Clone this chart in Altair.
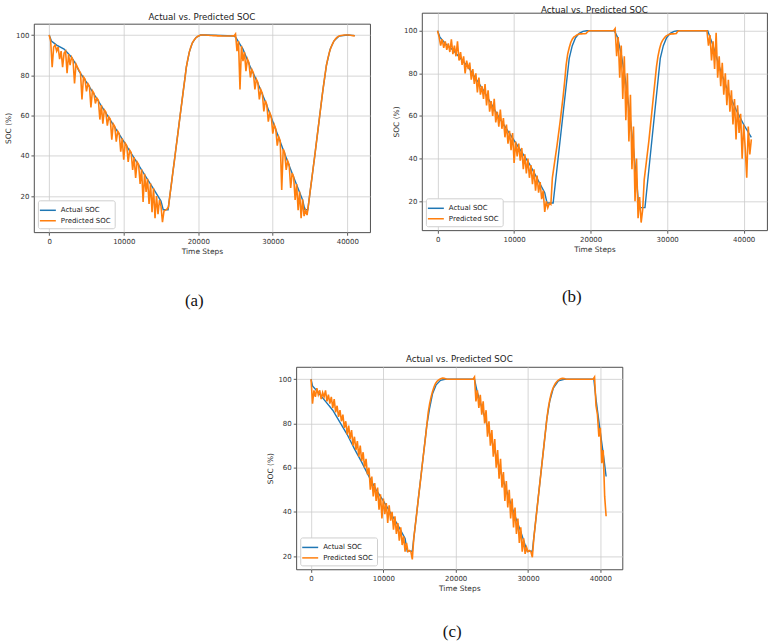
import altair as alt
import numpy as np
import pandas as pd

STEP = 200  # spacing of the predicted samples (time steps)
X_TICKS = [0, 10000, 20000, 30000, 40000]
Y_TICKS = [20, 40, 60, 80, 100]
SERIES = ["Actual SOC", "Predicted SOC"]
COLORS = ["#1f77b4", "#ff7f0e"]

# ---------------- panel (a) ----------------
a_act_t = [0, 300, 1000, 2000, 3000, 3500, 4000, 5000, 6000, 7000, 8000, 9000, 10000, 11000,
           12000, 13000, 14000, 15000, 15300, 15950, 17000, 18000, 18400, 18800, 19200, 19700,
           20300, 21000, 23000, 24800, 25000, 26000, 27000, 28000, 29000, 30000, 31000, 32000,
           33000, 34000, 34300, 34700, 35700, 36700, 37200, 37700, 38200, 38900, 40000, 41000]
a_act_v = [100, 97, 95, 93, 89, 86, 82, 76.6, 70.7, 64.8, 58.9, 53, 47.1, 41.2,
           35.3, 29.4, 23.5, 17.5, 13.2, 13.2, 43.5, 72.5, 84, 91.5, 96, 98.8,
           100, 100, 99.8, 99.5, 99, 93, 84, 76, 67, 57, 47, 37,
           27.5, 18, 13.2, 13.2, 42, 72, 85, 93, 97, 99.5, 100, 99.7]
a_pred = [
    100, 97, 84, 94, 95, 92, 94, 88, 92, 84,
    91, 92, 81, 90.5, 85, 89, 87.5, 76, 85.6, 84,
    82.4, 81.3, 68, 79.2, 78.1, 72, 75.8, 74.6, 64, 72.3,
    71.1, 66, 68.7, 67.6, 58, 65.2, 56, 62.8, 61.7, 55,
    59.3, 58.1, 48, 55.8, 54.6, 47, 52.2, 51, 42, 48.7,
    38, 46.3, 45.1, 37, 42.8, 41.6, 33, 39.2, 29, 36.9,
    35.7, 26, 33.3, 17, 31, 22, 28.6, 16, 26.3, 12,
    23.9, 9, 20, 11, 18, 15, 7, 12.5, 13, 13.5,
    14.5, 20.5, 26, 32, 37.5, 43.5, 49, 55, 61, 66.5,
    72.5, 78, 84, 88, 91.5, 94, 96, 97.3, 98.3, 99,
    99.5, 99.8, 100, 100, 100, 100, 99.9, 99.9, 99.8, 99.8,
    99.7, 99.7, 99.7, 99.6, 99.6, 99.6, 99.5, 99.5, 99.5, 99.5,
    99.5, 99.5, 99.5, 99.6, 99.5, 100.5, 92, 97, 73, 94.6,
    87, 91.6, 82, 88, 86.2, 79, 82.8, 81.2, 73, 78,
    76.4, 68, 72.8, 71, 62, 67.4, 65.4, 57, 61.4, 59.4,
    51, 55.4, 53.4, 45, 49.4, 47.4, 23, 43.4, 41.4, 33,
    37.4, 35.4, 24, 31.4, 29.5, 18, 26, 13, 22.2, 9,
    18.4, 10, 13, 10.5, 16, 21.9, 27.5, 33.3, 39, 45,
    51, 57, 63, 69, 74.6, 80, 85, 88.5, 91.5, 93.8,
    95.5, 97, 98, 98.8, 99.3, 99.6, 99.8, 99.9, 100, 100,
    100, 100, 99.9, 99.8, 99.7, 99.6,
]

# ---------------- panel (b) ----------------
b_act_t = [0, 300, 1000, 2000, 3000, 4000, 6000, 8000, 10000, 12000,
           14000, 14300, 15100, 17200, 17600, 18000, 18500, 19000, 19500, 23100,
           23500, 24000, 24500, 25000, 25500, 26000, 26300, 27100, 29100, 29500,
           29900, 30400, 30900, 31400, 35300, 36000, 37000, 38000, 39000, 40000, 41000]
b_act_v = [100, 97, 94, 91, 87, 83, 72, 59.5, 48.5, 37.5,
           24, 19.2, 19.2, 87, 93, 96.5, 98.8, 99.7, 100, 100,
           97, 89, 78, 64, 48, 30, 17, 17, 87, 93,
           96.5, 98.8, 99.7, 100, 100, 93, 81, 71, 63, 56, 50]
b_pred = [
    100, 97, 93, 96, 92, 95, 91, 94, 90, 96,
    89, 93, 88, 95, 86, 90, 84, 88, 80, 86,
    82, 85, 77, 82, 75, 80, 71, 78, 70, 74,
    68, 75, 65, 72, 62, 67, 60, 68, 57, 62,
    55, 63, 54, 59, 50, 56, 47, 53, 44, 52,
    38, 48, 41, 47, 39, 45, 35, 42, 33, 40,
    31, 37, 28, 35, 25, 32, 24, 29, 21, 25,
    15, 20, 17, 19, 18.5, 31, 36, 41, 46, 51.5,
    57, 63, 69, 76, 84, 89, 92, 94.5, 96, 97,
    97.5, 98, 98.3, 98.5, 98.5, 98.6, 98.6, 98.7, 99.5, 100,
    100, 100, 100, 100, 100, 100, 100, 100, 100, 100,
    100, 100, 100, 100, 100, 100, 101, 88, 97, 78,
    93, 68, 88, 58, 80, 48, 70, 35, 55, 20,
    40, 12, 22, 10, 16, 30, 36, 42, 48, 55,
    62, 69, 76, 83, 88, 91.5, 94, 95.5, 96.5, 97.3,
    97.8, 98.2, 98.4, 98.5, 98.5, 98.6, 98.7, 99.8, 100, 100,
    100, 100, 100, 100, 100, 100, 100, 100, 100, 100,
    100, 100, 100, 100, 100, 100, 100, 93, 98, 86,
    95, 82, 99, 78, 88, 74, 85, 70, 80, 65,
    77, 62, 72, 56, 68, 49, 65, 52, 61, 40,
    56, 45, 31, 55, 42, 49,
]

# ---------------- panel (c) ----------------
c_act_t = [0, 200, 1000, 2000, 3000, 4000, 5000, 6000, 7000, 8000,
           9000, 10000, 11000, 12000, 13000, 13300, 14000, 16000, 16400, 16800,
           17300, 17900, 18500, 22600, 23000, 24000, 25000, 26000, 27000, 28000,
           29000, 29700, 29900, 30600, 32600, 33000, 33500, 34200, 35000, 39100,
           39400, 40000, 40500, 40800]
c_act_v = [100, 97, 94, 90, 86, 80.5, 75, 68.5, 62.5, 56,
           50, 45, 39.5, 34, 28, 22.2, 22.2, 79, 87, 93.5,
           97.5, 99.5, 100, 100, 94, 83, 72, 60.5, 50, 40,
           31, 24, 22.2, 22.2, 82, 90, 96, 99.3, 100, 100,
           91, 76, 64, 56]
c_pred = [
    100, 89, 95, 92, 96, 93, 95, 91, 94, 92,
    95, 90, 93, 89, 92, 87, 91, 85, 88, 83,
    86, 81, 84, 78, 81, 75, 79, 73, 77, 70,
    74, 68, 72, 65, 70, 63, 67, 60, 64, 57,
    60, 50, 56, 47, 53, 45, 51, 41, 48, 37,
    46, 39, 44, 35, 43, 36, 40, 32, 38, 30,
    35, 27, 33, 25, 29, 22, 26, 22, 22.5, 22,
    18.5, 28, 33.5, 39, 45, 50.5, 56, 62, 67.5, 73,
    79, 85, 89, 92, 94.5, 96.5, 98, 99, 99.6, 100,
    100.3, 100.5, 100.4, 100.2, 100, 100, 100, 100, 100, 100,
    100, 100, 100, 100, 100, 100, 100, 100, 100, 100,
    100, 100, 100, 101, 90, 95, 87, 93, 84, 90,
    80, 86, 74, 81, 70, 77, 65, 73, 60, 68,
    55, 64, 51, 58, 45, 54, 42, 50, 37, 46,
    33, 42, 30, 37, 26, 33, 22, 28, 21, 24,
    22, 22.5, 22, 19.5, 28, 34, 40, 46, 52, 58,
    64, 70, 76, 82, 87, 90.5, 93.5, 95.5, 97, 98.2,
    99, 99.6, 100, 100.3, 100.4, 100.3, 100.1, 100, 100, 100,
    100, 100, 100, 100, 100, 100, 100, 100, 100, 100,
    100, 100, 100, 100, 100, 100, 101, 88, 84, 74,
    78, 62, 68, 47, 38,
]

FONT = "DejaVu Sans"
TITLE = "Actual vs. Predicted SOC"


def panel(act_t, act_v, pred, ydom, w, h, title_offset):
    df_act = pd.DataFrame({"t": act_t, "soc": act_v, "series": SERIES[0]})
    df_pred = pd.DataFrame({"t": np.arange(len(pred)) * STEP, "soc": pred, "series": SERIES[1]})
    x = alt.X("t:Q", scale=alt.Scale(domain=[-2050, 43050], nice=False, zero=False),
              axis=alt.Axis(values=X_TICKS, format="d", title="Time Steps"))
    y = alt.Y("soc:Q", scale=alt.Scale(domain=ydom, nice=False, zero=False),
              axis=alt.Axis(values=Y_TICKS, title="SOC (%)"))
    legend = alt.Legend(title=None, orient="bottom-left", offset=4, padding=4,
                        fillColor="white", strokeColor="#cfcfcf", cornerRadius=2,
                        symbolType="M-1.6,0L1.6,0", symbolSize=100, symbolStrokeWidth=1.5,
                        labelFont=FONT, labelFontSize=7, labelColor="#222",
                        rowPadding=1.5, labelOffset=7)
    color = alt.Color("series:N", scale=alt.Scale(domain=SERIES, range=COLORS), legend=legend)
    l1 = alt.Chart(df_act).mark_line(strokeWidth=1.4).encode(x=x, y=y, color=color)
    l2 = alt.Chart(df_pred).mark_line(strokeWidth=1.6).encode(x=x, y=y, color=color)
    return alt.layer(l1, l2).properties(
        width=w, height=h,
        title=alt.TitleParams(TITLE, anchor="middle", frame="group",
                              font=FONT, fontSize=8.7, fontWeight="normal", color="#222",
                              offset=title_offset))


def spacer(w, h):
    return alt.Chart(pd.DataFrame({"t": [0], "soc": [0]})).mark_point(opacity=0, size=0).encode(
        x=alt.X("t:Q", axis=None), y=alt.Y("soc:Q", axis=None)
    ).properties(width=w, height=h, view=alt.ViewBackground(stroke=None))


def caption(text, dx, offset):
    return alt.TitleParams(text, orient="bottom", anchor="middle", frame="bounds",
                           font="Liberation Serif", fontSize=17, fontWeight="normal",
                           color="#111", dx=dx, offset=offset)


pa = panel(a_act_t, a_act_v, a_pred, [2.0, 105.6], 337, 209, 2)
pb = panel(b_act_t, b_act_v, b_pred, [6.4, 108.4], 346, 218, -2)
pc = panel(c_act_t, c_act_v, c_pred, [14.0, 105.6], 327, 203, 3)

# panel (a) sits 11 px lower than panel (b)
a_inner = alt.vconcat(spacer(337, 11), pa, spacing=0, bounds="flush").resolve_scale(
    color="independent", x="independent", y="independent")
col_a = alt.vconcat(a_inner, title=caption("(a)", 7, 38)).resolve_scale(color="independent")
col_b = alt.vconcat(pb, title=caption("(b)", -8, 36)).resolve_scale(color="independent")
col_c = alt.vconcat(pc, title=caption("(c)", 7.5, 32)).resolve_scale(color="independent")

row1 = alt.hconcat(col_a, col_b, spacing=21).resolve_scale(
    color="independent", x="independent", y="independent")
row2 = alt.hconcat(spacer(233, 1), col_c, spacing=0).resolve_scale(
    color="independent", x="independent", y="independent")

chart = alt.vconcat(row1, row2, spacing=45).resolve_scale(
    color="independent", x="independent", y="independent"
).properties(
    padding={"left": 4, "top": 4, "right": 5, "bottom": 5},
    background="white",
).configure_view(
    stroke="#3a3a3a", strokeWidth=0.9
).configure_axis(
    grid=True, gridColor="#cccccc", gridWidth=0.8, domain=False,
    tickColor="#333", tickSize=3, tickWidth=0.8,
    labelFont=FONT, labelFontSize=7, labelColor="#333", labelPadding=2,
    titleFont=FONT, titleFontSize=7.5, titleFontWeight="normal", titleColor="#333", titlePadding=3,
)

chart.save("out.html", embed_options={"renderer": "svg", "actions": False})
